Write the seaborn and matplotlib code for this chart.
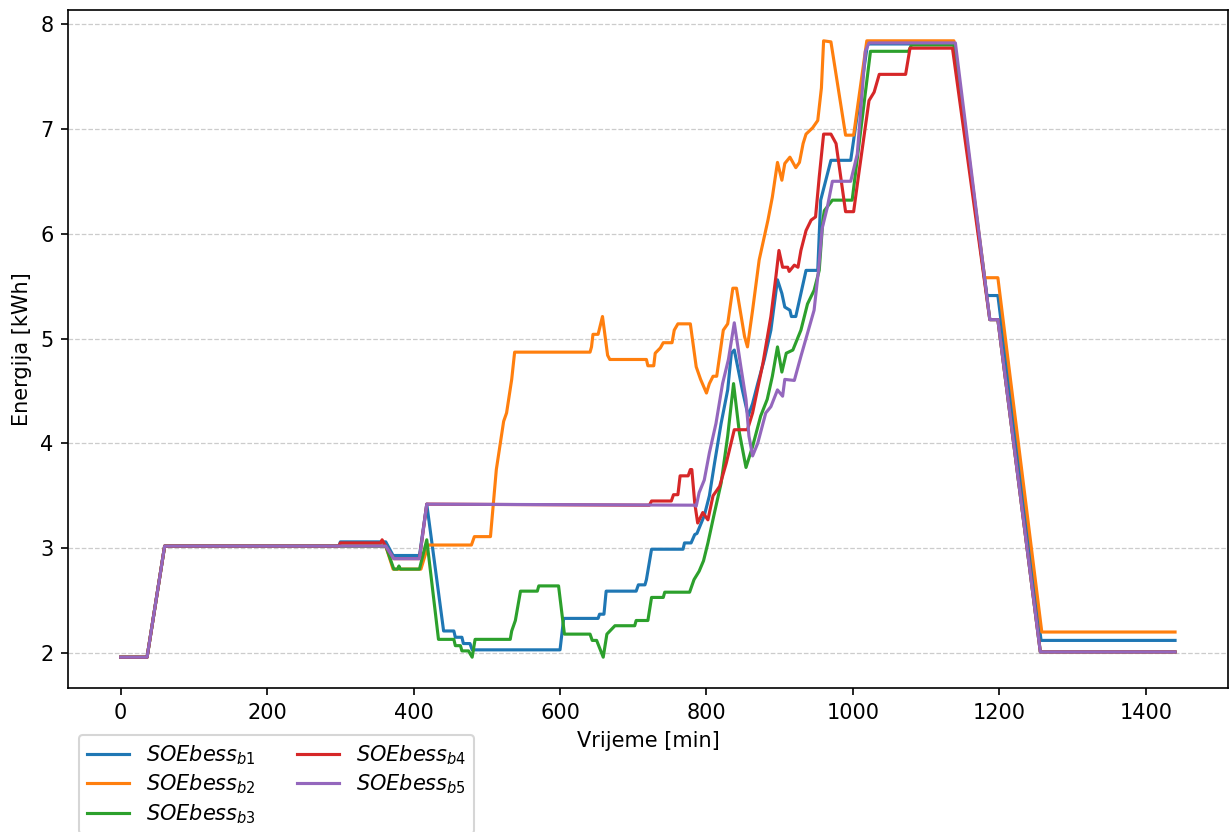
import numpy as np
import pandas as pd
import matplotlib
matplotlib.use("Agg")
import matplotlib.pyplot as plt
import seaborn as sns

# ==================================
# DATA (breakpoints)
# ==================================

b1_x = [0, 36, 60, 298, 300, 362, 372, 408, 418, 441, 455, 457, 466, 468, 477, 480,
        600, 605, 652, 654, 660, 663, 704, 707, 716, 718, 725, 768, 770, 779, 784, 787,
        797, 804, 811, 820, 829, 834, 838, 849, 857, 863, 870, 879, 888, 897, 903, 907,
        914, 916, 922, 929, 936, 952, 956, 970, 997, 1020, 1138, 1183, 1198, 1257, 1440]
b1_y = [1.96, 1.96, 3.02, 3.02, 3.06, 3.06, 2.93, 2.93, 3.42, 2.21, 2.21, 2.15, 2.15, 2.09, 2.09, 2.03,
        2.03, 2.33, 2.33, 2.37, 2.37, 2.59, 2.59, 2.65, 2.65, 2.70, 2.99, 2.99, 3.05, 3.05, 3.13, 3.14,
        3.31, 3.50, 3.81, 4.19, 4.51, 4.86, 4.89, 4.51, 4.26, 4.38, 4.57, 4.80, 5.08, 5.56, 5.43, 5.30,
        5.27, 5.21, 5.21, 5.43, 5.65, 5.65, 6.32, 6.70, 6.70, 7.81, 7.81, 5.41, 5.41, 2.12, 2.12]

b2_x = [0, 36, 60, 362, 372, 410, 420, 479, 483, 505, 513, 523, 527, 534, 538, 641, 643,
        645, 652, 658, 665, 668, 718, 720, 728, 730, 737, 741, 753, 756, 761, 778, 786,
        792, 800, 804, 809, 814, 823, 829, 836, 841, 852, 856, 863, 872, 884, 890, 897,
        903, 907, 914, 922, 927, 932, 936, 945, 952, 957, 960, 970, 990, 1001, 1019, 1138,
        1180, 1198, 1258, 1440]
b2_y = [1.96, 1.96, 3.02, 3.02, 2.80, 2.80, 3.03, 3.03, 3.11, 3.11, 3.75, 4.21, 4.29, 4.61, 4.87, 4.87, 4.92,
        5.04, 5.04, 5.21, 4.84, 4.80, 4.80, 4.74, 4.74, 4.86, 4.91, 4.96, 4.96, 5.08, 5.14, 5.14, 4.73,
        4.61, 4.48, 4.57, 4.64, 4.64, 5.08, 5.14, 5.48, 5.48, 5.02, 4.92, 5.27, 5.75, 6.13, 6.35, 6.68,
        6.51, 6.67, 6.73, 6.63, 6.68, 6.86, 6.95, 7.01, 7.08, 7.39, 7.84, 7.83, 6.94, 6.94, 7.84, 7.84,
        5.58, 5.58, 2.20, 2.20]

b3_x = [0, 36, 60, 362, 373, 378, 380, 382, 408, 418, 434, 455, 457, 464, 466, 475, 480,
        484, 532, 534, 539, 546, 569, 571, 598, 606, 641, 644, 650, 659, 664, 675, 702,
        704, 720, 725, 741, 743, 777, 781, 783, 790, 796, 802, 811, 820, 829, 837, 845,
        854, 863, 874, 883, 890, 897, 903, 909, 918, 929, 938, 947, 954, 959, 961, 972,
        999, 1024, 1076, 1080, 1138, 1187, 1198, 1256, 1440]
b3_y = [1.96, 1.96, 3.02, 3.02, 2.80, 2.80, 2.83, 2.80, 2.80, 3.08, 2.13, 2.13, 2.07, 2.07, 2.02, 2.02, 1.96,
        2.13, 2.13, 2.21, 2.31, 2.59, 2.59, 2.64, 2.64, 2.18, 2.18, 2.12, 2.12, 1.96, 2.18, 2.26, 2.26,
        2.31, 2.31, 2.53, 2.53, 2.58, 2.58, 2.66, 2.70, 2.78, 2.88, 3.05, 3.34, 3.62, 4.07, 4.57, 4.10,
        3.77, 3.97, 4.26, 4.42, 4.64, 4.92, 4.68, 4.86, 4.89, 5.08, 5.33, 5.46, 5.65, 6.13, 6.22, 6.32,
        6.32, 7.74, 7.74, 7.80, 7.80, 5.18, 5.18, 2.01, 2.01]

b4_x = [0, 36, 60, 298, 300, 355, 357, 360, 373, 408, 418, 722, 725, 752, 755, 761, 764,
        775, 778, 780, 784, 788, 795, 802, 809, 818, 827, 838, 856, 863, 877, 888, 895,
        899, 904, 911, 913, 920, 925, 929, 936, 943, 949, 954, 960, 970, 977, 990, 1001,
        1008, 1022, 1029, 1036, 1072, 1078, 1136, 1187, 1198, 1256, 1440]
b4_y = [1.96, 1.96, 3.02, 3.02, 3.05, 3.05, 3.08, 3.04, 2.90, 2.90, 3.42, 3.41, 3.45, 3.45, 3.51, 3.51, 3.69,
        3.69, 3.75, 3.75, 3.43, 3.24, 3.34, 3.27, 3.50, 3.59, 3.81, 4.13, 4.13, 4.29, 4.76, 5.21, 5.60,
        5.84, 5.68, 5.68, 5.64, 5.70, 5.68, 5.84, 6.03, 6.13, 6.16, 6.54, 6.95, 6.95, 6.86, 6.21, 6.21,
        6.57, 7.27, 7.35, 7.52, 7.52, 7.77, 7.77, 5.18, 5.18, 2.01, 2.01]

b5_x = [0, 36, 60, 362, 373, 408, 418, 784, 786, 790, 797, 804, 813, 822, 830, 838, 847,
        854, 858, 863, 870, 881, 888, 897, 904, 907, 920, 929, 938, 947, 953, 958, 965,
        972, 997, 1006, 1017, 1022, 1140, 1187, 1198, 1256, 1440]
b5_y = [1.96, 1.96, 3.02, 3.02, 2.90, 2.90, 3.42, 3.41, 3.40, 3.53, 3.65, 3.91, 4.19, 4.57, 4.80, 5.15, 4.73,
        4.42, 4.07, 3.88, 4.00, 4.29, 4.35, 4.51, 4.45, 4.61, 4.60, 4.83, 5.05, 5.27, 5.65, 6.05, 6.25,
        6.50, 6.50, 6.76, 7.74, 7.82, 7.82, 5.18, 5.18, 2.01, 2.01]

labels = [r"$SOEbess_{b1}$", r"$SOEbess_{b2}$", r"$SOEbess_{b3}$",
          r"$SOEbess_{b4}$", r"$SOEbess_{b5}$"]
series = [(b1_x, b1_y), (b2_x, b2_y), (b3_x, b3_y), (b4_x, b4_y), (b5_x, b5_y)]
colors = ["#1f77b4", "#ff7f0e", "#2ca02c", "#d62728", "#9467bd"]

# ==================================
# PLOT
# ==================================

fig = plt.figure(figsize=(1229 / 150, 832 / 150), dpi=150)
ax = fig.add_axes([68 / 1229, 1 - 688 / 832, 1 - 68 / 1229 - 0.001, (688 - 10) / 832])

for (xs, ys), lab, c in zip(series, labels, colors):
    df = pd.DataFrame({"t": xs, "e": ys})
    sns.lineplot(data=df, x="t", y="e", ax=ax, color=c, label=lab,
                 estimator=None, sort=False, linewidth=1.5)

ax.set_xticks(np.arange(0, 1401, 200))
ax.set_yticks(np.arange(2, 9, 1))
ax.grid(axis="y", linestyle="--", color="#cccccc", linewidth=0.6)
ax.set_axisbelow(True)
ax.set_xlabel("Vrijeme [min]")
ax.set_ylabel("Energija [kWh]")

# legend sits under the axes and runs off the bottom edge, like the original
ax.get_legend().remove()
handles, labs = ax.get_legend_handles_labels()
fig.legend(handles, labs, loc="upper left", ncol=2, labelspacing=0.28,
           bbox_to_anchor=(79 / 1229, 1 - 735 / 832), borderaxespad=0)

fig.savefig("out.png", dpi=150)
